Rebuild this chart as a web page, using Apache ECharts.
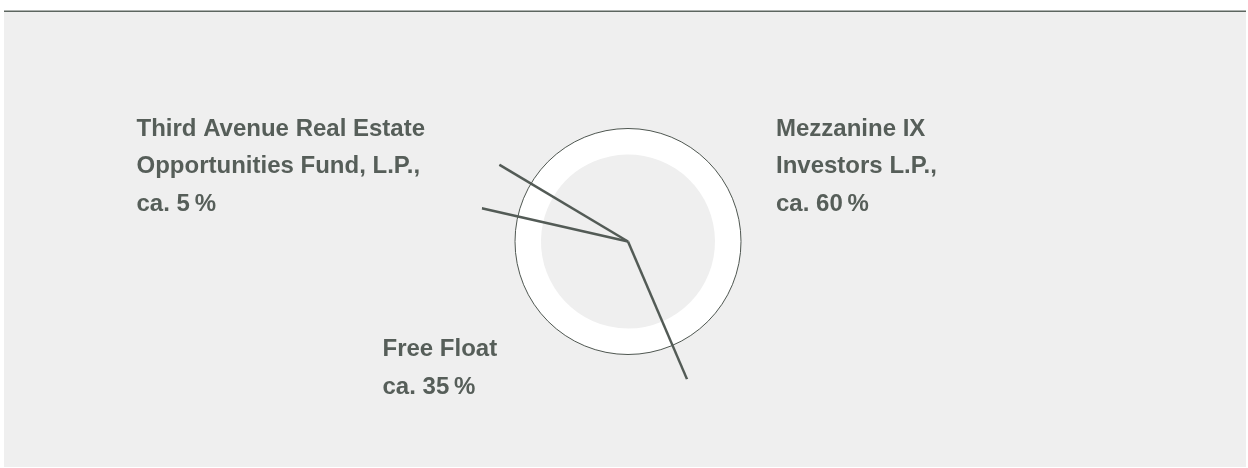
<!DOCTYPE html>
<html>
<head>
<meta charset="utf-8">
<script src="https://cdn.jsdelivr.net/npm/echarts@6/dist/echarts.min.js"></script>
<style>
  html, body { margin: 0; padding: 0; background: #ffffff; }
  #chart { width: 1248px; height: 468px; }
</style>
</head>
<body>
<div id="chart"></div>
<script>
// ---- data ----
var categories = ['Mezzanine IX Investors L.P.', 'Free Float', 'Third Avenue Real Estate Opportunities Fund, L.P.'];
var shares = [60, 35, 5];
var labelLines = [
  ['Mezzanine IX', 'Investors L.P.,', 'ca. 60\u202F%'],
  ['Free Float', 'ca. 35\u202F%'],
  ['Third Avenue Real Estate', 'Opportunities Fund, L.P.,', 'ca. 5\u202F%']
];

// ---- style / layout ----
var TEXT = '#565e59';
var LINE = '#535b56';
var CENTER = [628, 241.5];
var START = 149.2;
var labelPos = [[776, 110.5], [382.5, 331], [136.5, 110.5]];

var total = shares.reduce(function (a, b) { return a + b; }, 0);
var bounds = [];
var acc = 0;
shares.forEach(function (v) { bounds.push(acc); acc += v; });

var chart = echarts.init(document.getElementById('chart'));

var series = [
  {
    type: 'pie',
    center: CENTER,
    radius: [87, 113],
    startAngle: START,
    clockwise: true,
    silent: true,
    label: { show: false },
    labelLine: { show: false },
    itemStyle: { color: '#ffffff', borderWidth: 0 },
    emphasis: { disabled: true },
    data: categories.map(function (c, i) { return { name: c, value: shares[i] }; }),
    z: 1
  },
  {
    type: 'pie',
    center: CENTER,
    radius: [0, 113],
    silent: true,
    label: { show: false },
    labelLine: { show: false },
    itemStyle: { color: 'rgba(0,0,0,0)', borderColor: '#4f5751', borderWidth: 1 },
    emphasis: { disabled: true },
    data: [{ name: 'total', value: total }],
    z: 2
  }
];
bounds.forEach(function (b, i) {
  series.push({
    type: 'line',
    coordinateSystem: 'polar',
    silent: true,
    symbol: 'none',
    clip: false,
    lineStyle: { color: LINE, width: 2.5 },
    data: [[0, b], [150, b]],
    z: 5
  });
});

var graphics = [
  { type: 'rect', shape: { x: 4, y: 11, width: 1242, height: 456 }, style: { fill: '#efefef' }, z: -10, silent: true },
  { type: 'rect', shape: { x: 4, y: 10.5, width: 1242, height: 1.6 }, style: { fill: '#5d6660' }, z: -9, silent: true }
];
labelLines.forEach(function (lines, i) {
  graphics.push({
    type: 'text',
    x: labelPos[i][0],
    y: labelPos[i][1],
    silent: true,
    style: {
      text: lines.join('\n'),
      fill: TEXT,
      font: 'bold 24px "Liberation Sans", Arial, sans-serif',
      lineHeight: 37.4,
      verticalAlign: 'top',
      align: 'left'
    },
    z: 10
  });
});

chart.setOption({
  animation: false,
  backgroundColor: '#ffffff',
  polar: { center: CENTER, radius: [0, 150] },
  angleAxis: {
    type: 'value', min: 0, max: total, startAngle: START, clockwise: true,
    axisLine: { show: false }, axisTick: { show: false }, axisLabel: { show: false }, splitLine: { show: false }
  },
  radiusAxis: {
    type: 'value', min: 0, max: 150,
    axisLine: { show: false }, axisTick: { show: false }, axisLabel: { show: false }, splitLine: { show: false }
  },
  graphic: graphics,
  series: series
});
</script>
</body>
</html>
